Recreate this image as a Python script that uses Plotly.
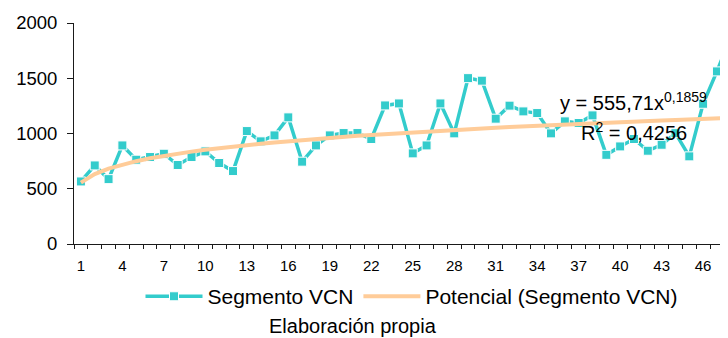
import plotly.graph_objects as go

# ---- data ----
categories = list(range(1, 49))
segmento_vcn = [566, 711, 587, 892, 763, 787, 817, 715, 787, 838,
                733, 660, 1022, 929, 983, 1146, 745, 892, 983, 1004,
                1004, 950, 1254, 1272, 820, 892, 1272, 1001, 1501, 1478,
                1134, 1252, 1200, 1185, 1001, 1110, 1095, 1164, 807, 883,
                950, 844, 898, 1003, 793, 1269, 1562, 1877]
# power trend coefficients as printed on the chart
trend_a = 555.71
trend_b = 0.1859
x_tick_values = list(range(1, 48, 3))
x_tick_labels = [str(v) for v in x_tick_values]
y_tick_values = [0, 500, 1000, 1500, 2000]
series_name = "Segmento VCN"
trend_name = "Potencial (Segmento VCN)"
equation_text = "y = 555,71x<sup>0,1859</sup>"
r2_text = "R<sup>2</sup> = 0,4256"
caption_text = "Elaboración propia"

trend_values = [trend_a * (c ** trend_b) for c in categories]

TEAL = "#33CCCC"
PEACH = "#FFCC99"
AXIS = "#1a1a1a"
FONT = "Liberation Sans, Arial, sans-serif"

fig = go.Figure()
fig.add_trace(go.Scatter(
    x=categories, y=segmento_vcn, name=series_name, mode="lines+markers",
    line=dict(color=TEAL, width=3.5),
    marker=dict(symbol="square", size=9, color=TEAL,
                line=dict(color="white", width=1)),
))
fig.add_trace(go.Scatter(
    x=categories, y=trend_values, name=trend_name, mode="lines",
    line=dict(color=PEACH, width=4),
))

boundaries = [c - 0.5 for c in categories]

# page body has an 8px margin, so the figure is 720x330 and sits at (8, 8)
W, H = 720, 330
ML, MT, MR = 66, 15, 0
plot_bottom = 236.3
MB = H - plot_bottom
PW = W - ML - MR
PH = plot_bottom - MT

fig.update_layout(
    width=W, height=H,
    margin=dict(l=ML, r=MR, t=MT, b=MB, pad=0),
    paper_bgcolor="white", plot_bgcolor="white",
    font=dict(family=FONT, color="black"),
    showlegend=True,
    legend=dict(orientation="h", x=(404 - ML) / PW, xanchor="center",
                y=-(289 - plot_bottom) / PH, yanchor="middle",
                font=dict(size=21, family=FONT),
                bgcolor="rgba(0,0,0,0)", itemwidth=57),
    xaxis=dict(range=[0.5, 47.8], tickmode="array",
               tickvals=x_tick_values, ticktext=x_tick_labels,
               ticks="", showline=True, linecolor=AXIS, linewidth=1,
               showgrid=False, zeroline=False, ticklabelstandoff=8,
               tickfont=dict(size=15, family=FONT),
               minor=dict(tickmode="array", tickvals=boundaries,
                          ticks="outside", ticklen=4, tickcolor=AXIS,
                          showgrid=False)),
    yaxis=dict(range=[0, 2000], tickmode="array", tickvals=y_tick_values,
               ticks="outside", ticklen=6, tickcolor=AXIS,
               showline=True, linecolor=AXIS, linewidth=1,
               showgrid=False, zeroline=False, ticklabelstandoff=6,
               tickfont=dict(size=18.5, family=FONT)),
    annotations=[
        dict(x=41.0, y=1288, xref="x", yref="y", text=equation_text,
             showarrow=False, font=dict(size=20, family=FONT),
             xanchor="center", yanchor="middle"),
        dict(x=41.0, y=1016, xref="x", yref="y", text=r2_text,
             showarrow=False, font=dict(size=20, family=FONT),
             xanchor="center", yanchor="middle"),
        dict(x=(345 - ML) / PW, y=-(318 - plot_bottom) / PH, xref="paper",
             yref="paper", text=caption_text, showarrow=False,
             font=dict(size=20, family=FONT),
             xanchor="center", yanchor="middle"),
    ],
)

fig.write_html("out.html")
